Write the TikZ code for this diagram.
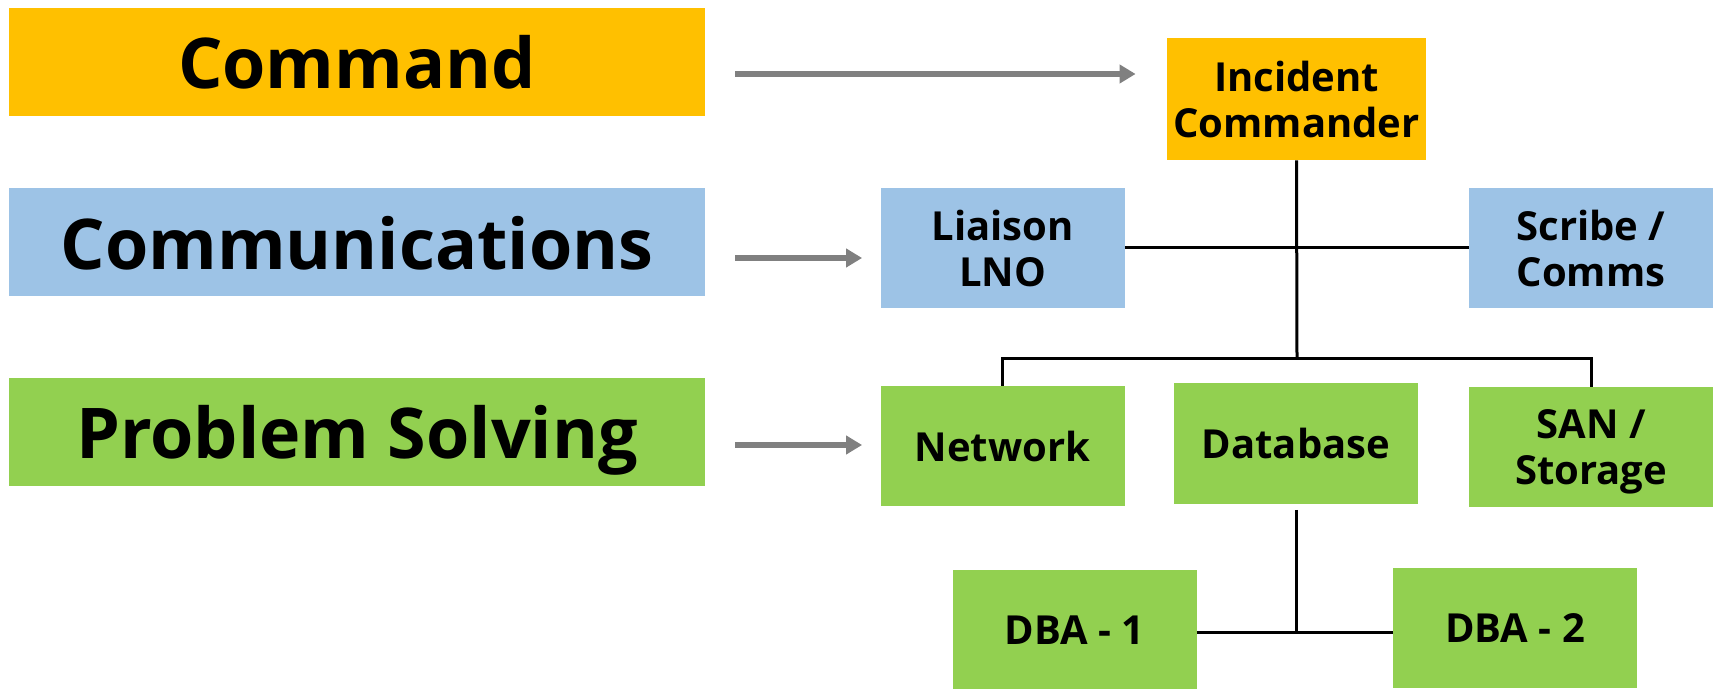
\documentclass[tikz,border=0pt]{standalone}
\usepackage{fontspec}
\setmainfont{Open Sans}
\usetikzlibrary{arrows.meta, calc, positioning}
\definecolor{icsgold}{HTML}{FFC000}
\definecolor{icsblue}{HTML}{9DC3E6}
\definecolor{icsgreen}{HTML}{92D050}
\definecolor{icsgray}{HTML}{808080}
\tikzset{
  align=center,
  area/.style={minimum width=348pt, minimum height=54pt, inner sep=0pt, text depth=0pt, font=\fontsize{35}{42}\selectfont\bfseries},
  role/.style={minimum width=122pt, minimum height=60pt, inner sep=0pt, text depth=0pt, font=\fontsize{20}{23}\selectfont\bfseries},
  pto/.style={-{Triangle[length=8pt,width=9pt]}, line width=2.8pt, icsgray},
  tie/.style={line width=1.5pt, black}
}

\begin{document}
\begin{tikzpicture}[x=0.5pt, y=-0.5pt]
  \useasboundingbox (0,0) rectangle (1713,689);

  % the three levels
  \node[area, fill=icsgold]  (cmd)   at (357,62)    {Command};
  \node[area, fill=icsblue]  (comms) at (357,242.5) {Communications};
  \node[area, fill=icsgreen] (prob)  at (357,432)   {Problem Solving};

  % the team
  \node[role, fill=icsgold, minimum width=129.5pt, minimum height=61pt] (ic) at (1296.5,99) {Incident\\Commander};
  \node[role, fill=icsblue]  (lno)    at (1002.5,248) {Liaison\\LNO};
  \node[role, fill=icsblue]  (scribe) at (1591,248)   {Scribe /\\Comms};
  \node[role, fill=icsgreen] (net)    at (1002.5,446) {Network};
  \node[role, fill=icsgreen] (db)     at (1296,443.5) {Database};
  \node[role, fill=icsgreen] (san)    at (1591,447)   {SAN /\\Storage};
  \node[role, fill=icsgreen] (dba1)   at (1074.5,630) {DBA - 1};
  \node[role, fill=icsgreen] (dba2)   at (1515,628)   {DBA - 2};

  \coordinate (bus) at (1297,359);
  \coordinate (dbajoin) at (1296,632);

  \draw[tie] (ic.south) -- (bus);
  \draw[tie] (lno.east) -- (scribe.west);
  \draw[tie] (net.north) |- (bus) -| (san.north);
  \draw[tie] ([yshift=-3pt]db.south) -- (dbajoin);
  \draw[tie] (dba1.east |- dbajoin) -- (dba2.west |- dbajoin);

  \draw[pto] ($(cmd.east)+(30,12)$) -- ($(ic.west)+(-31,-25)$);
  \draw[pto] ($(comms.east)+(30,15.5)$) -- ($(lno.west)+(-18,10)$);
  \draw[pto] ($(prob.east)+(30,13)$) -- ($(net.west)+(-18,-1)$);
\end{tikzpicture}
\end{document}
